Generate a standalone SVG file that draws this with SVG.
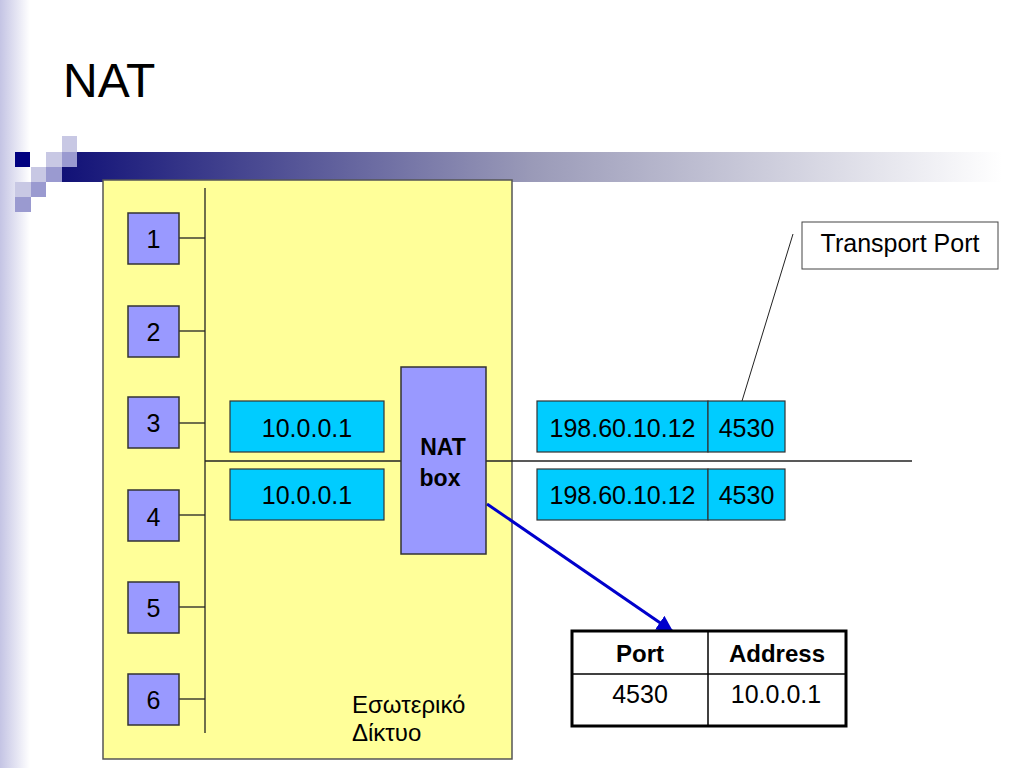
<svg xmlns="http://www.w3.org/2000/svg" width="1024" height="768" viewBox="0 0 1024 768">
<defs>
<linearGradient id="edge" x1="0" y1="0" x2="1" y2="0">
<stop offset="0" stop-color="#c4c4e4"/>
<stop offset="1" stop-color="#ffffff"/>
</linearGradient>
<linearGradient id="bar" x1="0" y1="0" x2="1" y2="0">
<stop offset="0" stop-color="#111177"/>
<stop offset="0.5" stop-color="#9a9ab8"/>
<stop offset="1" stop-color="#ffffff"/>
</linearGradient>
<marker id="arr" viewBox="0 0 10 10" refX="9" refY="5" markerWidth="5.5" markerHeight="5.5" orient="auto" markerUnits="strokeWidth">
<path d="M0,0 L10,5 L0,10 Z" fill="#0000cc"/>
</marker>
<style>
text{font-family:"Liberation Sans",Arial,sans-serif;fill:#000}
.host{fill:#9999ff;stroke:#333;stroke-width:1.5}
.pkt{fill:#00ccff;stroke:#333;stroke-width:1.2}
.ln{stroke:#222;stroke-width:1.3;fill:none}
.t24{font-size:25px}
.b22{font-size:23px;font-weight:bold}
.b24{font-size:24px;font-weight:bold}
</style>
</defs>
<rect width="1024" height="768" fill="#ffffff"/>
<rect x="0" y="0" width="30" height="768" fill="url(#edge)"/>
<g id="decor">
<rect x="62" y="152" width="940" height="30" fill="url(#bar)"/>
<rect x="15" y="152" width="15" height="15" fill="#000080"/>
<rect x="62" y="136" width="15" height="16" fill="#c8c8e4"/>
<rect x="46" y="152" width="16" height="15" fill="#c8c8e4"/>
<rect x="62" y="152" width="15" height="15" fill="#9a9ad0"/>
<rect x="31" y="167" width="15" height="15" fill="#c8c8e4"/>
<rect x="46" y="167" width="16" height="15" fill="#9a9ad0"/>
<rect x="15" y="182" width="16" height="15" fill="#c8c8e4"/>
<rect x="31" y="182" width="15" height="15" fill="#9a9ad0"/>
<rect x="15" y="197" width="16" height="15" fill="#9a9ad0"/>
</g>
<text x="63" y="97" font-size="48">NAT</text>
<g id="internal-network">
<rect x="103" y="180" width="409" height="579" fill="#ffff99" stroke="#555" stroke-width="1.5"/>
<text x="352" y="713" font-size="24">Εσωτερικό</text>
<text x="352" y="741" font-size="24">Δίκτυο</text>
</g>
<g id="connectors">
<line class="ln" x1="205" y1="188" x2="205" y2="733"/>
<line class="ln" x1="179" y1="238" x2="205" y2="238"/>
<line class="ln" x1="179" y1="331" x2="205" y2="331"/>
<line class="ln" x1="179" y1="423" x2="205" y2="423"/>
<line class="ln" x1="179" y1="515" x2="205" y2="515"/>
<line class="ln" x1="179" y1="607" x2="205" y2="607"/>
<line class="ln" x1="179" y1="699" x2="205" y2="699"/>
<line class="ln" x1="205" y1="461" x2="912" y2="461"/>
<line x1="793" y1="234" x2="742" y2="401" stroke="#222" stroke-width="1"/>
<line x1="487" y1="504" x2="672" y2="631" stroke="#0000cc" stroke-width="3" marker-end="url(#arr)"/>
</g>
<g id="host1"><rect class="host" x="128" y="213" width="51" height="51"/><text class="t24" x="153.5" y="248" text-anchor="middle">1</text></g>
<g id="host2"><rect class="host" x="128" y="306" width="51" height="51"/><text class="t24" x="153.5" y="341" text-anchor="middle">2</text></g>
<g id="host3"><rect class="host" x="128" y="397" width="51" height="51"/><text class="t24" x="153.5" y="432" text-anchor="middle">3</text></g>
<g id="host4"><rect class="host" x="128" y="490" width="51" height="51"/><text class="t24" x="153.5" y="526" text-anchor="middle">4</text></g>
<g id="host5"><rect class="host" x="128" y="582" width="51" height="51"/><text class="t24" x="153.5" y="617" text-anchor="middle">5</text></g>
<g id="host6"><rect class="host" x="128" y="674" width="51" height="51"/><text class="t24" x="153.5" y="709" text-anchor="middle">6</text></g>
<g id="pkt-in-1"><rect class="pkt" x="230" y="401" width="154" height="51"/><text class="t24" x="307" y="437" text-anchor="middle">10.0.0.1</text></g>
<g id="pkt-in-2"><rect class="pkt" x="230" y="469" width="154" height="51"/><text class="t24" x="307" y="504" text-anchor="middle">10.0.0.1</text></g>
<g id="nat-box"><rect class="host" x="401" y="367" width="85" height="187"/><text class="b22" x="443" y="455" text-anchor="middle">NAT</text><text class="b22" x="440" y="486" text-anchor="middle">box</text></g>
<g id="pkt-out-1"><rect class="pkt" x="537" y="401" width="171" height="51"/><rect class="pkt" x="708" y="401" width="77" height="51"/><text class="t24" x="622.5" y="437" text-anchor="middle">198.60.10.12</text><text class="t24" x="746.5" y="437" text-anchor="middle">4530</text></g>
<g id="pkt-out-2"><rect class="pkt" x="537" y="469" width="171" height="51"/><rect class="pkt" x="708" y="469" width="77" height="51"/><text class="t24" x="622.5" y="504" text-anchor="middle">198.60.10.12</text><text class="t24" x="746.5" y="504" text-anchor="middle">4530</text></g>
<g id="transport-port"><rect x="802" y="222" width="196" height="47" fill="#fff" stroke="#444" stroke-width="1"/><text class="t24" x="900" y="252" text-anchor="middle">Transport Port</text></g>
<g id="nat-table">
<rect x="572" y="631" width="274" height="95" fill="#fff" stroke="#000" stroke-width="3"/>
<line x1="708" y1="631" x2="708" y2="726" stroke="#000" stroke-width="1.5"/>
<line x1="572" y1="674" x2="846" y2="674" stroke="#000" stroke-width="1.5"/>
<text class="b24" x="640" y="662" text-anchor="middle">Port</text>
<text class="b24" x="777" y="662" text-anchor="middle">Address</text>
<text class="t24" x="640" y="703" text-anchor="middle">4530</text>
<text class="t24" x="776" y="703" text-anchor="middle">10.0.0.1</text>
</g>
</svg>
